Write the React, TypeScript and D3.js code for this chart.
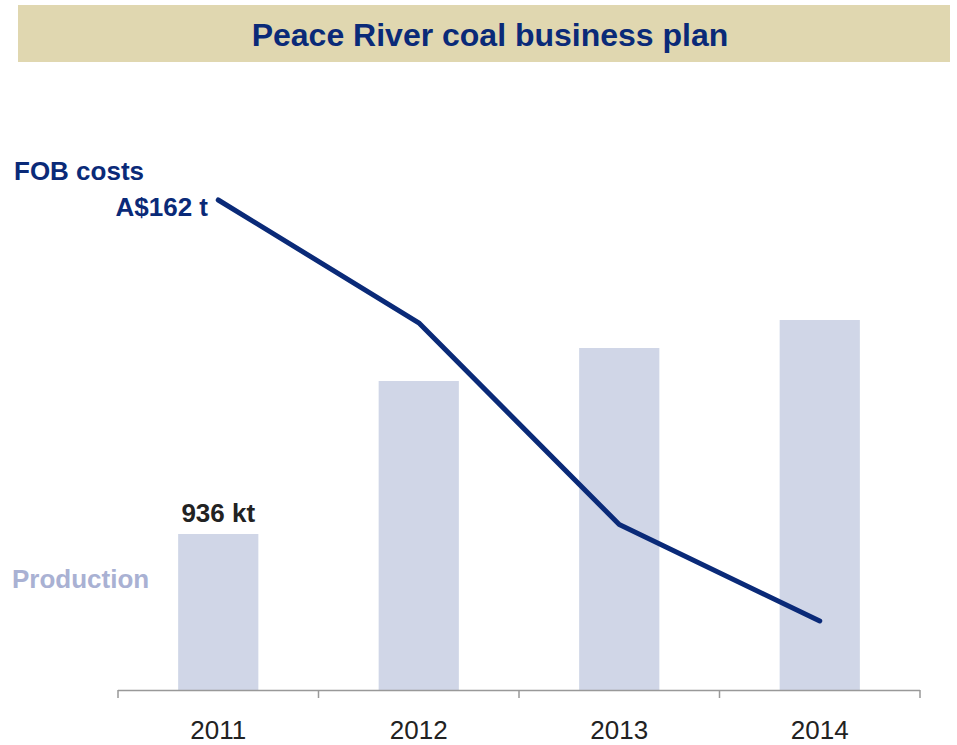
import React from "react";
import * as d3 from "d3";

const years = ["2011", "2012", "2013", "2014"];
const production = [936, 1854, 2052, 2220]; // kt
const fobCosts = [162, 141, 106.5, 90]; // A$/t

const W = 957;
const H = 745;

export default function App() {
  const x = d3.scaleBand<string>().domain(years).range([118, 920]).paddingInner(0.6).paddingOuter(0.3);
  const step = 200.5;
  const xc = (y: string) => (x(y) as number) + x.bandwidth() / 2;
  const base = 690;
  const yBar = d3.scaleLinear().domain([0, 936]).range([base, 534]);
  const yLine = d3.scaleLinear().domain([90, 162]).range([621, 200]);
  const line = d3
    .line<number>()
    .x((_, i) => xc(years[i]))
    .y((d) => yLine(d));
  const tickXs = d3.range(years.length + 1).map((i) => 118 + i * step);
  const navy = "#0a2a78";
  const font = "'Liberation Sans', Arial, sans-serif";

  return (
    <svg width={W} height={H} style={{ position: "absolute", left: 0, top: 0 }} fontFamily={font}>
      <rect x={18} y={5} width={932} height={57} fill="#e0d7b0" />
      <text x={490} y={46} textAnchor="middle" fontSize={32} fontWeight="bold" fill={navy}>
        Peace River coal business plan
      </text>
      {years.map((y, i) => (
        <rect
          key={y}
          x={x(y)}
          y={yBar(production[i])}
          width={x.bandwidth()}
          height={base - yBar(production[i])}
          fill="#d0d6e7"
        />
      ))}
      <path d={line(fobCosts) || ""} fill="none" stroke={navy} strokeWidth={5} strokeLinecap="round" strokeLinejoin="round" />
      <line x1={118} x2={920} y1={base + 0.5} y2={base + 0.5} stroke="#999" strokeWidth={1.5} />
      {tickXs.map((t, i) => (
        <line key={i} x1={t} x2={t} y1={base} y2={698} stroke="#999" strokeWidth={1.5} />
      ))}
      {years.map((y) => (
        <text key={y} x={xc(y)} y={739} textAnchor="middle" fontSize={26} fill="#222">
          {y}
        </text>
      ))}
      <text x={14} y={180} fontSize={26} fontWeight="bold" fill={navy}>
        FOB costs
      </text>
      <text x={208} y={216} textAnchor="end" fontSize={26} fontWeight="bold" fill={navy}>
        {`A$${fobCosts[0]} t`}
      </text>
      <text x={xc(years[0])} y={522} textAnchor="middle" fontSize={26} fontWeight="bold" fill="#222">
        {`${production[0]} kt`}
      </text>
      <text x={12} y={588} fontSize={26} fontWeight="bold" fill="#a9b1d3">
        Production
      </text>
    </svg>
  );
}
